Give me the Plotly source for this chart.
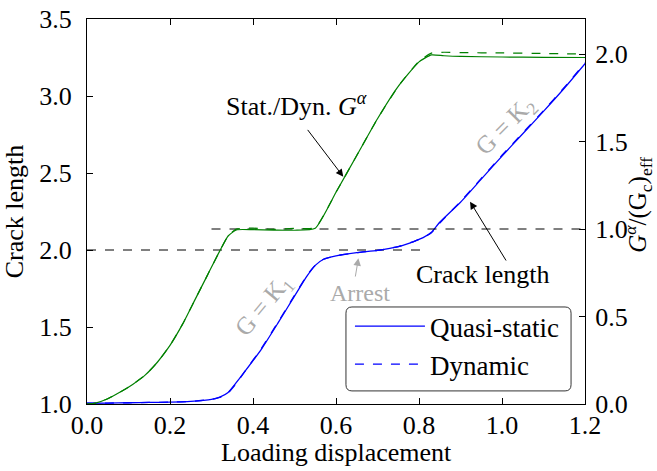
import plotly.graph_objects as go

# loading displacement samples and read-off values
u_qs = [0.0, 0.02, 0.05, 0.08, 0.11, 0.14, 0.17, 0.20, 0.23, 0.26, 0.29, 0.32, 0.34, 0.36,
        0.40, 0.45, 0.50, 0.55, 0.60, 0.65, 0.70, 0.75, 0.80, 0.83, 0.86, 0.90, 1.0, 1.1, 1.2]
G_qs = [0.0, 0.005, 0.03, 0.068, 0.112, 0.165, 0.24, 0.335, 0.455, 0.595, 0.735, 0.875, 0.96, 0.995,
        0.996, 0.994, 0.993, 1.005, 1.21, 1.42, 1.63, 1.815, 1.955, 1.995, 1.99, 1.986, 1.983, 1.981, 1.98]
G_dyn = [0.0, 0.005, 0.03, 0.068, 0.112, 0.165, 0.24, 0.335, 0.455, 0.595, 0.735, 0.875, 0.96, 1.0,
         1.005, 0.998, 1.004, 1.008, 1.21, 1.42, 1.63, 1.815, 1.958, 2.005, 2.01, 2.008, 2.006, 2.003, 2.0]

u_crack = [0.0, 0.05, 0.10, 0.15, 0.20, 0.25, 0.30, 0.32, 0.34, 0.36, 0.38, 0.42, 0.46, 0.50,
           0.53, 0.55, 0.57, 0.60, 0.65, 0.70, 0.75, 0.79, 0.81, 0.83, 0.85, 0.90, 0.95, 1.0,
           1.05, 1.10, 1.15, 1.2]
crack_qs = [1.005, 1.006, 1.008, 1.01, 1.012, 1.017, 1.03, 1.045, 1.075, 1.14, 1.21, 1.355, 1.525,
            1.70, 1.83, 1.9, 1.94, 1.962, 1.983, 1.998, 2.022, 2.058, 2.08, 2.115, 2.18, 2.31,
            2.46, 2.61, 2.755, 2.90, 3.05, 3.21]
crack_dyn = [1.005, 1.006, 1.008, 1.01, 1.012, 1.017, 1.03, 1.043, 1.072, 1.135, 1.21, 1.36, 1.53,
             1.705, 1.835, 1.9, 1.94, 1.962, 1.983, 1.998, 2.022, 2.058, 2.08, 2.112, 2.175, 2.315,
             2.465, 2.615, 2.76, 2.905, 3.055, 3.215]

# reference lines
ref_crack_u = [0.0, 0.81]
ref_crack = [2.0, 2.0]
ref_G_u = [0.3, 1.2]
ref_G = [1.0, 1.0]

FONT = "Liberation Serif"
BLUE = "#0000ff"
GREEN = "#008000"
GRAY = "#aaaaaa"

fig = go.Figure()

fig.add_trace(go.Scatter(x=ref_crack_u, y=ref_crack, mode="lines", showlegend=False,
                         line=dict(color="black", width=1, dash="dash")))
fig.add_trace(go.Scatter(x=ref_G_u, y=ref_G, mode="lines", showlegend=False, yaxis="y2",
                         line=dict(color="black", width=1, dash="dash")))

fig.add_trace(go.Scatter(x=u_qs, y=G_qs, mode="lines", showlegend=False, yaxis="y2",
                         line=dict(color=GREEN, width=1.2, shape="spline", smoothing=0.5)))
fig.add_trace(go.Scatter(x=u_qs, y=G_dyn, mode="lines", showlegend=False, yaxis="y2",
                         line=dict(color=GREEN, width=1.2, dash="dash", shape="spline", smoothing=0.5)))

fig.add_trace(go.Scatter(x=u_crack, y=crack_qs, mode="lines", name="Quasi-static",
                         legendgroup="a", line=dict(color=BLUE, width=1.3, shape="spline", smoothing=0.5)))
fig.add_trace(go.Scatter(x=u_crack, y=crack_dyn, mode="lines", name="Dynamic",
                         legendgroup="b", line=dict(color=BLUE, width=1.3, dash="dash",
                                                    shape="spline", smoothing=0.5)))

annos = [
    dict(x=0.6176, y=1.299, xref="x", yref="y2", ax=0.529, ay=1.575, axref="x", ayref="y2",
         text="", showarrow=True, arrowhead=2, arrowsize=1.5, arrowwidth=1, arrowcolor="black"),
    dict(x=0.504, y=1.714, xref="x", yref="y2", text="Stat./Dyn. <i>G</i><sup><i>α</i></sup>",
         showarrow=False, font=dict(size=26, color="black")),
    dict(x=0.923, y=2.314, xref="x", yref="y", ax=1.012, ay=1.922, axref="x", ayref="y",
         text="", showarrow=True, arrowhead=2, arrowsize=1.5, arrowwidth=1, arrowcolor="black"),
    dict(x=0.954, y=1.838, xref="x", yref="y", text="Crack length",
         showarrow=False, font=dict(size=26, color="black")),
    dict(x=0.654, y=1.946, xref="x", yref="y", ax=0.646, ay=1.818, axref="x", ayref="y",
         text="", showarrow=True, arrowhead=2, arrowsize=1.5, arrowwidth=1, arrowcolor=GRAY),
    dict(x=0.657, y=1.72, xref="x", yref="y", text="Arrest",
         showarrow=False, font=dict(size=24, color=GRAY)),
    dict(x=0.427, y=1.63, xref="x", yref="y", text="G = K<sub>1</sub>", textangle=-50,
         showarrow=False, font=dict(size=25, color=GRAY)),
    dict(x=1.0096, y=2.805, xref="x", yref="y", text="G = K<sub>2</sub>", textangle=-45,
         showarrow=False, font=dict(size=25, color=GRAY)),
    # axis titles placed by hand so they are not squeezed into the margins
    dict(x=1.106, y=0.517, xref="paper", yref="paper", textangle=-90, showarrow=False,
         xanchor="center", yanchor="middle",
         text="<i>G</i><sup><i>α</i></sup>/(G<sub>c</sub>)<sub>eff</sub>",
         font=dict(size=25, color="black")),
    dict(x=0.5, y=-0.127, xref="paper", yref="paper", showarrow=False,
         xanchor="center", yanchor="middle", text="Loading displacement",
         font=dict(size=26, color="black")),
]

# rounded legend frame (paper coords), legend itself drawn transparent on top
lx0, lx1, ly0, ly1 = 0.520, 0.972, 0.034, 0.252
rx, ry = 0.012, 0.016
frame = (f"M{lx0 + rx},{ly0} L{lx1 - rx},{ly0} Q{lx1},{ly0} {lx1},{ly0 + ry} "
         f"L{lx1},{ly1 - ry} Q{lx1},{ly1} {lx1 - rx},{ly1} L{lx0 + rx},{ly1} "
         f"Q{lx0},{ly1} {lx0},{ly1 - ry} L{lx0},{ly0 + ry} Q{lx0},{ly0} {lx0 + rx},{ly0} Z")

axis_common = dict(showline=True, linecolor="black", linewidth=1.2, ticks="inside",
                   ticklen=6, tickcolor="black", showgrid=False, zeroline=False,
                   automargin=False, ticklabeloverflow="allow",
                   tickfont=dict(size=26, color="black"))

fig.update_layout(
    width=657, height=471,
    margin=dict(l=87, r=72, t=19, b=67),
    paper_bgcolor="white", plot_bgcolor="white",
    font=dict(family=FONT, color="black"),
    xaxis=dict(range=[0, 1.2], dtick=0.2, tickformat=".1f", mirror="ticks",
               ticklabelstandoff=-2, **axis_common),
    yaxis=dict(range=[1.0, 3.5], dtick=0.5, tickformat=".1f", ticklabelstandoff=9,
               title=dict(text="Crack length", font=dict(size=26), standoff=14),
               **axis_common),
    yaxis2=dict(range=[0, 2.2], dtick=0.5, tickformat=".1f", overlaying="y", side="right",
                ticklabelstandoff=4, **axis_common),
    legend=dict(x=0.528, y=0.265, xanchor="left", yanchor="top", bgcolor="rgba(0,0,0,0)",
                borderwidth=0, font=dict(size=27), tracegroupgap=0, itemwidth=70),
    shapes=[dict(type="path", path=frame, xref="paper", yref="paper", layer="above",
                 fillcolor="white", line=dict(color="#333333", width=1))],
    annotations=annos,
)

# drop the default page margin so the figure fills the window exactly
fig.write_html("out.html", config={"displayModeBar": False},
               post_script="document.body.style.margin = '0';")
